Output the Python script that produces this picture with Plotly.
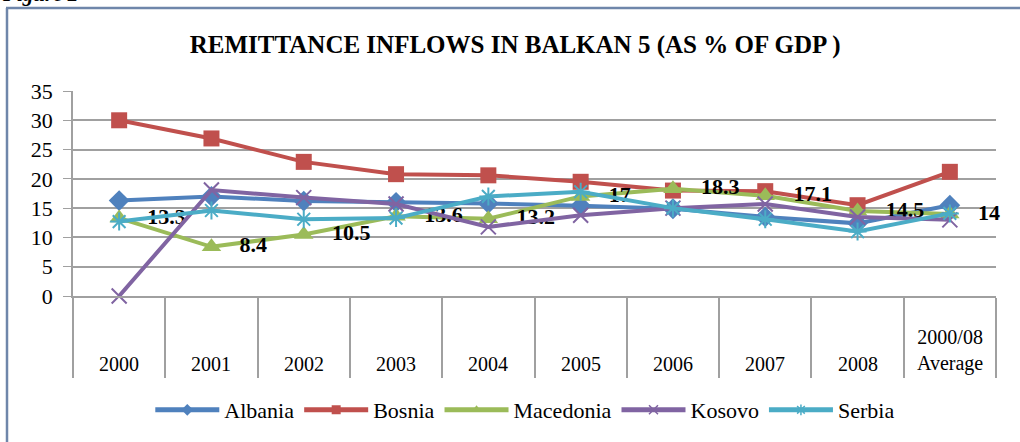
import plotly.graph_objects as go

categories = ["2000", "2001", "2002", "2003", "2004", "2005", "2006", "2007", "2008", "2000/08<br>Average"]

albania = [16.3, 17.0, 16.2, 16.0, 15.8, 15.4, 14.9, 13.5, 12.4, 15.5]
bosnia = [30.0, 26.9, 22.9, 20.8, 20.6, 19.5, 18.0, 17.9, 15.5, 21.2]
macedonia = [13.3, 8.4, 10.5, 13.6, 13.2, 17, 18.3, 17.1, 14.5, 14]
kosovo = [0, 18.1, 16.8, 15.7, 11.8, 13.8, 15.0, 15.7, 13.5, 13.0]
serbia = [12.7, 14.6, 13.1, 13.3, 17.0, 17.8, 15.0, 13.1, 11.0, 14.1]

y_ticks = [0, 5, 10, 15, 20, 25, 30, 35]

serif = "Liberation Serif"
frame = "#6F86AA"

# plot area in px: x 73..996, y 91..296
L, R, T, B = 73, 996, 91, 296
PW, PH = R - L, B - T

def px_y(py):
    return (B - py) / PH

def px_x(px):
    return (px - L) / PW

fig = go.Figure()

series = [
    ("Albania", albania, "#4F81BD", "diamond", 16),
    ("Bosnia", bosnia, "#C0504D", "square", 16),
    ("Macedonia", macedonia, "#9BBB59", "triangle-up", 17),
    ("Kosovo", kosovo, "#8064A2", "x-thin", 15),
    ("Serbia", serbia, "#4BACC6", "asterisk", 15),
]

for name, vals, color, sym, size in series:
    thin = sym in ("x-thin", "asterisk")
    is_mac = name == "Macedonia"
    fig.add_trace(go.Scatter(
        x=categories, y=vals, name=name, showlegend=False,
        mode="lines+markers+text" if is_mac else "lines+markers",
        line=dict(color=color, width=4),
        marker=dict(symbol=sym, size=size, color=color,
                    line=dict(color=color, width=2 if thin else 0)),
        text=vals if is_mac else None,
        texttemplate="   %{text}" if is_mac else None,
        textposition="middle right",
        textfont=dict(family=serif, size=22, color="black", weight="bold"),
        cliponaxis=False,
    ))

# legend entries: thick line with a small marker, as in the original
for name, vals, color, sym, size in series:
    thin = sym in ("x-thin", "asterisk")
    fig.add_trace(go.Scatter(
        x=[None], y=[None], name=name, mode="lines+markers",
        line=dict(color=color, width=5),
        marker=dict(symbol=sym, size=9, color=color,
                    line=dict(color=color, width=1.5 if thin else 0)),
    ))

# category labels sit at the bottom of the band below the axis
for i, c in enumerate(categories):
    fig.add_annotation(x=i, xref="x", y=px_y(377), yref="paper", yanchor="bottom",
                       text=c, showarrow=False,
                       font=dict(family=serif, size=20, color="black"))

# clipped caption at the very top of the page
fig.add_annotation(x=px_x(0), xref="paper", xanchor="left", y=px_y(8), yref="paper",
                   yanchor="bottom", text="<b><i>Figure 2</i></b>", showarrow=False,
                   font=dict(family=serif, size=21, color="black"))

fig.update_layout(
    width=1020, height=442,
    margin=dict(l=L, r=1020 - R, t=T, b=442 - B),
    paper_bgcolor="white", plot_bgcolor="white",
    title=dict(text="<b>REMITTANCE INFLOWS IN BALKAN 5 (AS % OF GDP )</b>",
               x=0.505, xanchor="center", y=1 - 44 / 442, yanchor="middle",
               font=dict(family=serif, size=25, color="black")),
    showlegend=True,
    legend=dict(orientation="h", x=0.515, xanchor="center", xref="container",
                y=1 - 389 / 442, yanchor="top", yref="container",
                font=dict(family=serif, size=22, color="black"),
                traceorder="normal", itemwidth=64),
    shapes=[
        dict(type="line", xref="paper", yref="paper", x0=px_x(6), x1=px_x(1025),
             y0=px_y(8), y1=px_y(8), line=dict(color=frame, width=2.5)),
        dict(type="line", xref="paper", yref="paper", x0=px_x(7), x1=px_x(7),
             y0=px_y(8), y1=px_y(450), line=dict(color=frame, width=2.5)),
    ],
)

fig.update_xaxes(
    type="category", showgrid=False, showline=True, linecolor="#A0A0A0", linewidth=1.5,
    tickson="boundaries", ticks="outside", ticklen=80, tickcolor="#A0A0A0", tickwidth=1.5,
    showticklabels=False, range=[-0.5, 9.5], automargin=False,
)
fig.update_yaxes(
    range=[0, 35], tickvals=y_ticks, showgrid=True, gridcolor="#A0A0A0", gridwidth=1.5,
    showline=True, linecolor="#A0A0A0", linewidth=1.5, ticks="outside", ticklen=8,
    tickcolor="#A0A0A0", tickfont=dict(family=serif, size=22, color="black"),
    ticklabelstandoff=6, zeroline=False, automargin=False,
)

fig.write_html("out.html", config={"displayModeBar": False},
               post_script="document.body.style.margin = '0';")
